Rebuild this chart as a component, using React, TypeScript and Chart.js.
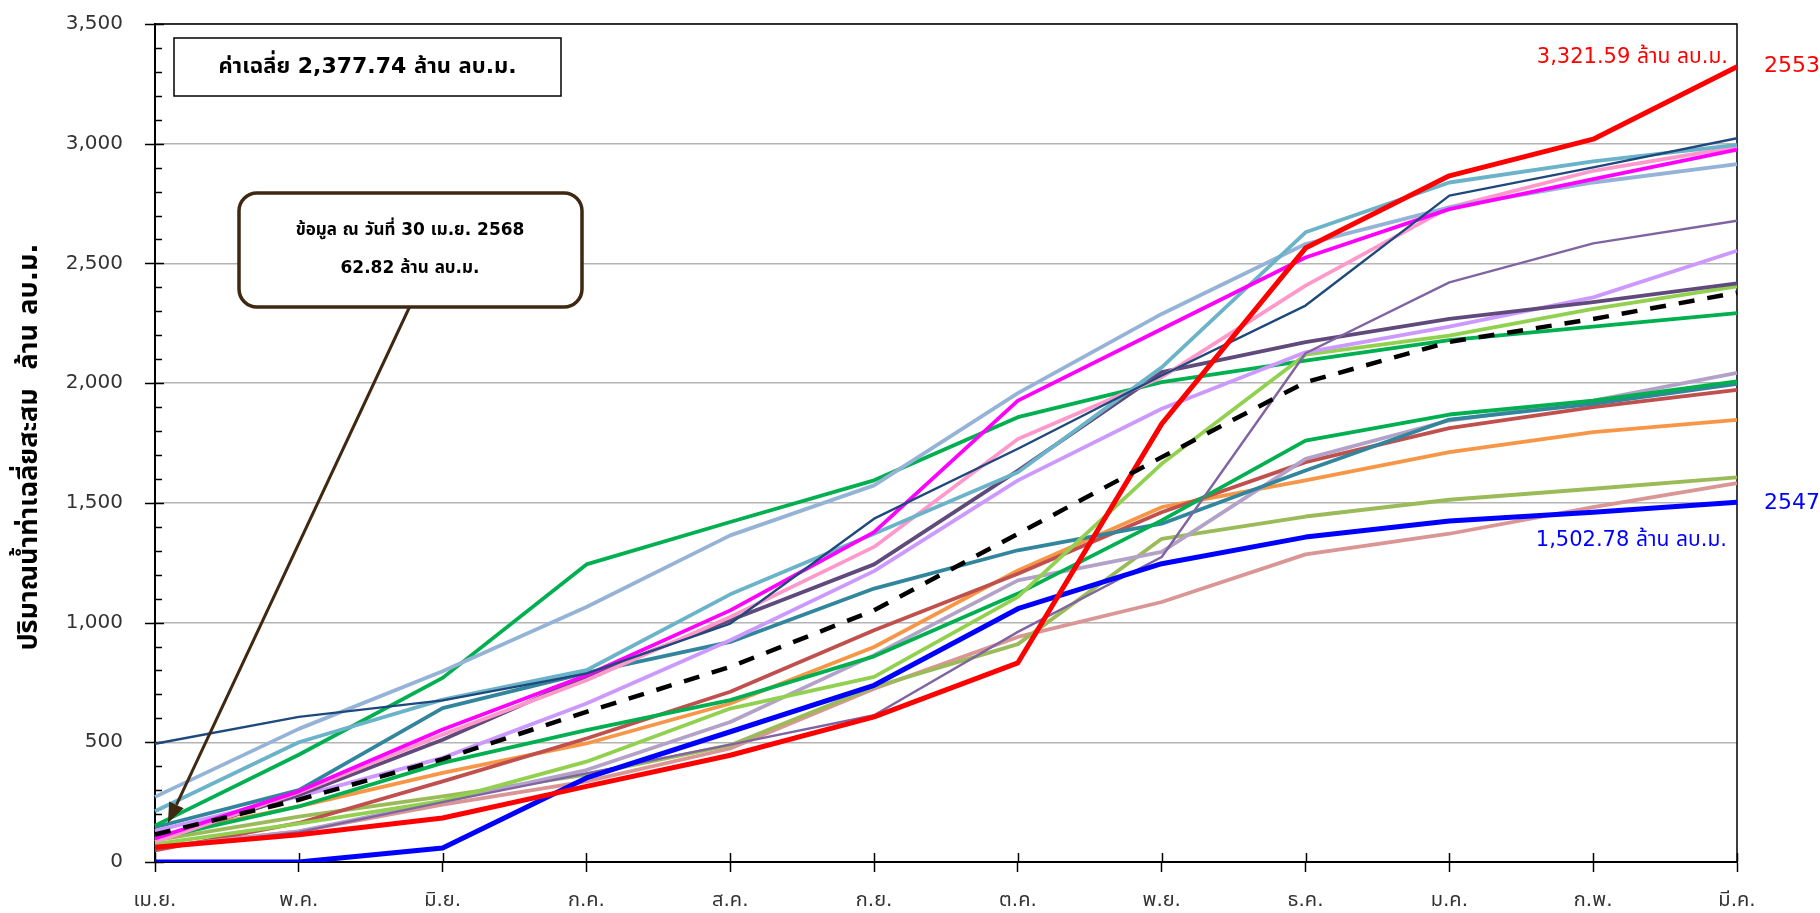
import { useEffect, useRef } from 'react'
import Chart from 'chart.js/auto'

const months = ['เม.ย.', 'พ.ค.', 'มิ.ย.', 'ก.ค.', 'ส.ค.', 'ก.ย.', 'ต.ค.', 'พ.ย.', 'ธ.ค.', 'ม.ค.', 'ก.พ.', 'มี.ค.']

// cumulative runoff, million m3, Apr..Mar
const avgLine      = [115, 260, 430, 627, 815, 1051, 1371, 1691, 2004, 2172, 2268, 2377.74]
const year2553     = [62, 114, 184, 316, 446, 606, 832, 1830, 2564, 2866, 3019, 3321.59]
const year2547     = [0, 0, 58, 351, 544, 738, 1058, 1246, 1357, 1424, 1461, 1502.78]
const navyLine     = [494, 606, 675, 787, 996, 1434, 1726, 2032, 2324, 2783, 2901, 3023]
const steelLine    = [272, 556, 797, 1065, 1364, 1573, 1958, 2289, 2581, 2734, 2838, 2915]
const aquaLine     = [212, 500, 678, 801, 1118, 1371, 1628, 2066, 2630, 2838, 2926, 2995]
const greenLine    = [152, 448, 769, 1243, 1420, 1594, 1858, 2004, 2094, 2180, 2236, 2292]
const tealLine     = [145, 300, 643, 790, 919, 1142, 1302, 1413, 1635, 1848, 1913, 1997]
const magentaLine  = [98, 295, 553, 780, 1051, 1378, 1927, 2226, 2525, 2727, 2852, 2975]
const pinkLine     = [84, 290, 532, 759, 1023, 1316, 1767, 2025, 2407, 2734, 2887, 2987]
const plumLine     = [90, 280, 511, 775, 1010, 1243, 1635, 2046, 2171, 2268, 2338, 2417]
const lilacLine    = [130, 274, 435, 662, 926, 1215, 1594, 1893, 2129, 2236, 2358, 2553]
const green2Line   = [97, 232, 414, 551, 676, 859, 1121, 1427, 1760, 1869, 1927, 2007]
const brickLine    = [48, 163, 337, 516, 711, 968, 1204, 1461, 1670, 1812, 1900, 1972]
const orangeLine   = [108, 232, 372, 495, 662, 898, 1218, 1482, 1594, 1712, 1795, 1847]
const limeLine     = [75, 160, 255, 419, 641, 773, 1107, 1663, 2119, 2198, 2310, 2404]
const lavenderLine = [60, 128, 253, 384, 585, 864, 1176, 1295, 1684, 1844, 1927, 2043]
const oliveLine    = [90, 190, 274, 365, 488, 731, 910, 1350, 1443, 1513, 1559, 1606]
const roseLine     = [62, 128, 240, 337, 474, 724, 940, 1086, 1285, 1371, 1482, 1582]
const violetLine   = [55, 125, 250, 370, 490, 613, 961, 1274, 2125, 2421, 2584, 2678]

const FONT = "'DejaVu Sans', 'Noto Sans Thai', Tahoma, sans-serif"

const lines: { data: number[]; color: string; width: number; dash?: number[] }[] = [
  { data: avgLine, color: '#000000', width: 4.5, dash: [16, 13] },
  { data: year2553, color: '#FF0000', width: 5 },
  { data: year2547, color: '#0000FF', width: 5 },
  { data: navyLine, color: '#1F497D', width: 2.4 },
  { data: violetLine, color: '#8064A2', width: 2.4 },
  { data: magentaLine, color: '#FF00FF', width: 3.8 },
  { data: aquaLine, color: '#6BB3C8', width: 3.8 },
  { data: steelLine, color: '#95B3D7', width: 3.8 },
  { data: pinkLine, color: '#FF99CC', width: 3.8 },
  { data: plumLine, color: '#604A7B', width: 3.8 },
  { data: lilacLine, color: '#CC99FF', width: 3.8 },
  { data: limeLine, color: '#92D050', width: 3.8 },
  { data: greenLine, color: '#00B050', width: 3.8 },
  { data: green2Line, color: '#00B050', width: 3.8 },
  { data: tealLine, color: '#31859C', width: 3.8 },
  { data: lavenderLine, color: '#B3A2C7', width: 3.8 },
  { data: brickLine, color: '#C0504D', width: 3.8 },
  { data: orangeLine, color: '#F79646', width: 3.8 },
  { data: oliveLine, color: '#9BBB59', width: 3.8 },
  { data: roseLine, color: '#D99694', width: 3.8 },
]

const overlay = {
  id: 'overlay',
  beforeDatasetsDraw(chart: any) {
    const { ctx, chartArea: a, scales } = chart
    const x = scales.x
    const y = scales.y
    ctx.save()
    ctx.strokeStyle = '#000'
    ctx.lineWidth = 1.5
    ctx.beginPath()
    ctx.moveTo(a.left, a.top)
    ctx.lineTo(a.right, a.top)
    ctx.lineTo(a.right, a.bottom)
    ctx.stroke()
    ctx.beginPath()
    for (let v = 0; v <= 3500; v += 100) {
      const py = Math.round(y.getPixelForValue(v)) + 0.5
      const major = v % 500 === 0
      ctx.moveTo(a.left - (major ? 10 : 0), py)
      ctx.lineTo(a.left + (major ? 9 : 7), py)
    }
    months.forEach((_, i) => {
      const px = Math.round(x.getPixelForValue(i)) + 0.5
      ctx.moveTo(px, a.bottom)
      ctx.lineTo(px, a.bottom - 9)
    })
    ctx.stroke()
    ctx.restore()
  },
  afterDraw(chart: any) {
    const { ctx, chartArea: a, scales } = chart
    const x = scales.x
    const y = scales.y
    ctx.save()

    // y axis title
    ctx.save()
    ctx.translate(30, (a.top + a.bottom) / 2 + 4)
    ctx.rotate(-Math.PI / 2)
    ctx.fillStyle = '#000'
    ctx.font = `bold 27px ${FONT}`
    ctx.textAlign = 'center'
    ctx.textBaseline = 'middle'
    ctx.fillText('ปริมาณน้ำท่าเฉลี่ยสะสม  ล้าน ลบ.ม.', 0, 0)
    ctx.restore()

    // average box
    ctx.fillStyle = '#fff'
    ctx.strokeStyle = '#000'
    ctx.lineWidth = 1.5
    ctx.fillRect(a.left + 19, 38, 387, 58)
    ctx.strokeRect(a.left + 19, 38, 387, 58)
    ctx.fillStyle = '#000'
    ctx.font = `bold 22px ${FONT}`
    ctx.textAlign = 'center'
    ctx.textBaseline = 'middle'
    ctx.fillText('ค่าเฉลี่ย 2,377.74 ล้าน ลบ.ม.', a.left + 19 + 387 / 2, 67)

    // callout arrow
    const brown = '#3F2812'
    const sx = 410
    const sy = 306
    const tx = x.getPixelForValue(0.09)
    const ty = y.getPixelForValue(163)
    const ang = Math.atan2(ty - sy, tx - sx)
    const hl = 20
    const hw = 8
    ctx.strokeStyle = brown
    ctx.fillStyle = brown
    ctx.lineWidth = 3
    ctx.beginPath()
    ctx.moveTo(sx, sy)
    ctx.lineTo(tx - Math.cos(ang) * hl, ty - Math.sin(ang) * hl)
    ctx.stroke()
    ctx.beginPath()
    ctx.moveTo(tx, ty)
    ctx.lineTo(tx - Math.cos(ang) * hl + Math.sin(ang) * hw, ty - Math.sin(ang) * hl - Math.cos(ang) * hw)
    ctx.lineTo(tx - Math.cos(ang) * hl - Math.sin(ang) * hw, ty - Math.sin(ang) * hl + Math.cos(ang) * hw)
    ctx.closePath()
    ctx.fill()

    // callout box
    ctx.beginPath()
    ctx.roundRect(239, 193, 343, 114, 18)
    ctx.fillStyle = '#fff'
    ctx.fill()
    ctx.lineWidth = 3.5
    ctx.strokeStyle = brown
    ctx.stroke()
    ctx.fillStyle = '#000'
    ctx.font = `bold 17px ${FONT}`
    ctx.fillText('ข้อมูล ณ วันที่ 30 เม.ย. 2568', 410, 231)
    ctx.fillText('62.82 ล้าน ลบ.ม.', 410, 269)

    // end labels
    const last = months.length - 1
    const ry = y.getPixelForValue(year2553[last])
    const by = y.getPixelForValue(year2547[last])
    const ex = x.getPixelForValue(last)
    ctx.font = `21px ${FONT}`
    ctx.textAlign = 'right'
    ctx.fillStyle = '#FF0000'
    ctx.fillText('3,321.59 ล้าน ลบ.ม.', ex - 9, ry - 9)
    ctx.fillStyle = '#0000FF'
    ctx.fillText('1,502.78 ล้าน ลบ.ม.', ex - 10, by + 38)
    ctx.textAlign = 'left'
    ctx.font = `22px ${FONT}`
    ctx.fillStyle = '#FF0000'
    ctx.fillText('2553', ex + 27, ry)
    ctx.fillStyle = '#0000FF'
    ctx.fillText('2547', ex + 27, by + 1)
    ctx.restore()
  },
}

export default function App() {
  const canvasRef = useRef<HTMLCanvasElement>(null)

  useEffect(() => {
    if (!canvasRef.current) return
    const chart = new Chart(canvasRef.current, {
      type: 'line',
      data: {
        labels: months,
        datasets: lines.map(l => ({
          data: l.data,
          borderColor: l.color,
          borderWidth: l.width,
          borderDash: l.dash ?? [],
          borderJoinStyle: 'round' as const,
          fill: false,
          tension: 0,
          pointRadius: 0,
          pointHoverRadius: 0,
        })),
      },
      options: {
        animation: false,
        responsive: true,
        maintainAspectRatio: false,
        events: [],
        layout: { padding: { left: 0, right: 83, top: 24, bottom: 0 } },
        plugins: { legend: { display: false }, tooltip: { enabled: false } },
        scales: {
          x: {
            offset: false,
            grid: { drawOnChartArea: false, drawTicks: true, tickLength: 10, tickColor: '#000', tickWidth: 1.5 },
            border: { color: '#000', width: 2 },
            ticks: { color: '#333', font: { family: FONT, size: 20 }, padding: 17, maxRotation: 0, autoSkip: false },
            afterFit: (s: any) => { s.height = 51 },
          },
          y: {
            min: 0,
            max: 3500,
            grid: { color: '#B4B4B4', lineWidth: 1.5, tickLength: 32, tickColor: 'rgba(0,0,0,0)' },
            border: { color: '#000', width: 2 },
            ticks: {
              stepSize: 500,
              color: '#333',
              font: { family: FONT, size: 20 },
              padding: 0,
              callback: (v: any) => Number(v).toLocaleString('en-US'),
            },
            afterFit: (s: any) => { s.width = 155 },
          },
        },
      },
      plugins: [overlay],
    })
    return () => chart.destroy()
  }, [])

  return (
    <div style={{ position: 'fixed', left: 0, top: 0, width: 1820, height: 913, background: '#fff' }}>
      <canvas ref={canvasRef} />
    </div>
  )
}
